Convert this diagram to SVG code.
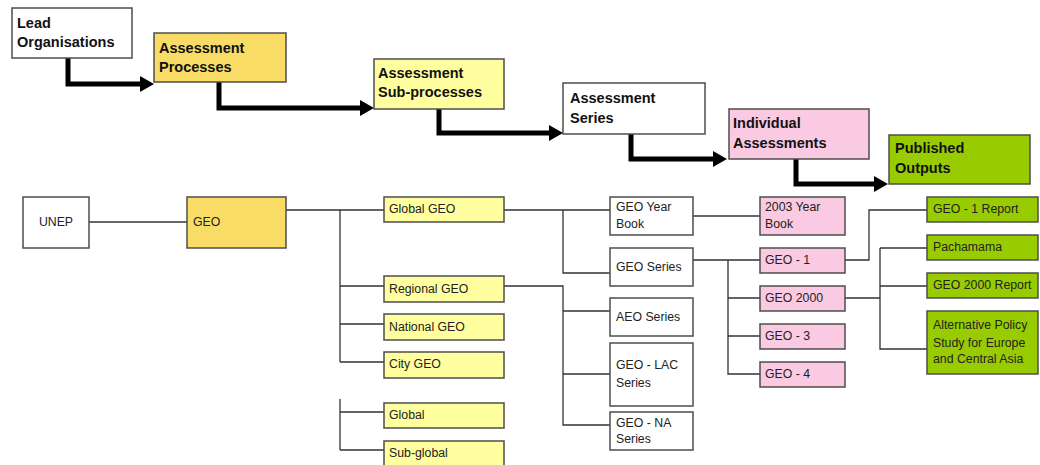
<svg xmlns="http://www.w3.org/2000/svg" width="1040" height="465" viewBox="0 0 1040 465">
<style>
.b{stroke:#4d4d4d;stroke-width:1.5}
.w{fill:#fff}.o{fill:#f9dc66}.y{fill:#ffffa0}.p{fill:#f9cae2}.g{fill:#99cc00}
.h{font-family:"Liberation Sans",Arial,sans-serif;font-size:14.5px;font-weight:bold;fill:#111}
.t{font-family:"Liberation Sans",Arial,sans-serif;font-size:12.3px;fill:#222}
.c{fill:none;stroke:#333;stroke-width:1.3}
.a{fill:none;stroke:#000;stroke-width:5}
</style>
<defs>
<marker id="ah" markerUnits="userSpaceOnUse" markerWidth="15" markerHeight="16" refX="1" refY="8" orient="auto">
<path d="M0,0 L14,8 L0,16 z" fill="#000"/>
</marker>
</defs>
<rect width="1040" height="465" fill="#fff"/>
<g id="connectors">
<path class="a" d="M68,58 V84 H141" marker-end="url(#ah)"/>
<path class="a" d="M219,82 V108 H361" marker-end="url(#ah)"/>
<path class="a" d="M439,109 V133 H550" marker-end="url(#ah)"/>
<path class="a" d="M631,134 V159 H714" marker-end="url(#ah)"/>
<path class="a" d="M796,159 V184 H875" marker-end="url(#ah)"/>
<path class="c" d="M89,222 H187"/>
<path class="c" d="M286,210 H384 M340,210 V362 M340,286 H384 M340,324 H384 M340,362 H384"/>
<path class="c" d="M340,399 V450 M340,412 H384 M340,450 H384"/>
<path class="c" d="M504,210 H610 M563,210 V273 H610"/>
<path class="c" d="M504,286 H563 V425 H610 M563,311 H610 M563,374 H610"/>
<path class="c" d="M693,216 H760"/>
<path class="c" d="M693,260 H760 M728,260 V374 H760 M728,298 H760 M728,336 H760"/>
<path class="c" d="M845,260 H869 V210 H927"/>
<path class="c" d="M845,298 H880 M880,248 V349 H927 M880,248 H927 M880,286 H927"/>
</g>
<g id="lead"><rect class="b w" x="12" y="8" width="120" height="50"/><text class="h" x="17" y="28">Lead</text><text class="h" x="17" y="47">Organisations</text></g>
<g id="processes"><rect class="b o" x="154" y="33" width="132" height="49"/><text class="h" x="159" y="53">Assessment</text><text class="h" x="159" y="72">Processes</text></g>
<g id="subprocesses"><rect class="b y" x="374" y="59" width="130" height="50"/><text class="h" x="378" y="78">Assessment</text><text class="h" x="378" y="97">Sub-processes</text></g>
<g id="series"><rect class="b w" x="563" y="83" width="142" height="51"/><text class="h" x="570" y="103">Assessment</text><text class="h" x="570" y="123">Series</text></g>
<g id="individual"><rect class="b p" x="729" y="109" width="140" height="50"/><text class="h" x="733" y="128">Individual</text><text class="h" x="733" y="148">Assessments</text></g>
<g id="published"><rect class="b g" x="889" y="135" width="141" height="49"/><text class="h" x="895" y="153">Published</text><text class="h" x="895" y="173">Outputs</text></g>

<g id="unep"><rect class="b w" x="23" y="197" width="66" height="51"/><text class="t" x="56" y="226" text-anchor="middle">UNEP</text></g>
<g id="geo"><rect class="b o" x="187" y="197" width="99" height="51"/><text class="t" x="193" y="226">GEO</text></g>
<g id="globalgeo"><rect class="b y" x="384" y="197" width="120" height="25"/><text class="t" x="389" y="213">Global GEO</text></g>
<g id="regionalgeo"><rect class="b y" x="384" y="276" width="120" height="26"/><text class="t" x="389" y="293">Regional GEO</text></g>
<g id="nationalgeo"><rect class="b y" x="384" y="314" width="120" height="26"/><text class="t" x="389" y="331">National GEO</text></g>
<g id="citygeo"><rect class="b y" x="384" y="352" width="120" height="26"/><text class="t" x="389" y="368">City GEO</text></g>
<g id="global"><rect class="b y" x="384" y="403" width="120" height="25"/><text class="t" x="389" y="419">Global</text></g>
<g id="subglobal"><rect class="b y" x="384" y="441" width="120" height="30"/><text class="t" x="389" y="457">Sub-global</text></g>
<g id="geoyearbook"><rect class="b w" x="610" y="197" width="83" height="38"/><text class="t" x="616" y="211">GEO Year</text><text class="t" x="616" y="228">Book</text></g>
<g id="geoseries"><rect class="b w" x="610" y="248" width="83" height="38"/><text class="t" x="616" y="271">GEO Series</text></g>
<g id="aeoseries"><rect class="b w" x="610" y="298" width="83" height="38"/><text class="t" x="616" y="321">AEO Series</text></g>
<g id="geolac"><rect class="b w" x="610" y="343" width="83" height="63"/><text class="t" x="616" y="369">GEO - LAC</text><text class="t" x="616" y="387">Series</text></g>
<g id="geona"><rect class="b w" x="610" y="412" width="83" height="38"/><text class="t" x="616" y="427">GEO - NA</text><text class="t" x="616" y="443">Series</text></g>
<g id="yearbook2003"><rect class="b p" x="760" y="197" width="85" height="38"/><text class="t" x="765" y="211">2003 Year</text><text class="t" x="765" y="228">Book</text></g>
<g id="geo1"><rect class="b p" x="760" y="248" width="85" height="25"/><text class="t" x="765" y="264">GEO - 1</text></g>
<g id="geo2000"><rect class="b p" x="760" y="286" width="85" height="25"/><text class="t" x="765" y="302">GEO 2000</text></g>
<g id="geo3"><rect class="b p" x="760" y="324" width="85" height="25"/><text class="t" x="765" y="340">GEO - 3</text></g>
<g id="geo4"><rect class="b p" x="760" y="362" width="85" height="25"/><text class="t" x="765" y="378">GEO - 4</text></g>
<g id="geo1report"><rect class="b g" x="927" y="197" width="111" height="25"/><text class="t" x="933" y="213">GEO - 1 Report</text></g>
<g id="pachamama"><rect class="b g" x="927" y="235" width="111" height="25"/><text class="t" x="933" y="251">Pachamama</text></g>
<g id="geo2000report"><rect class="b g" x="927" y="273" width="111" height="25"/><text class="t" x="933" y="289">GEO 2000 Report</text></g>
<g id="altpolicy"><rect class="b g" x="927" y="311" width="111" height="63"/><text class="t" x="933" y="329">Alternative Policy</text><text class="t" x="933" y="347">Study for Europe</text><text class="t" x="933" y="363">and Central Asia</text></g>
</svg>
